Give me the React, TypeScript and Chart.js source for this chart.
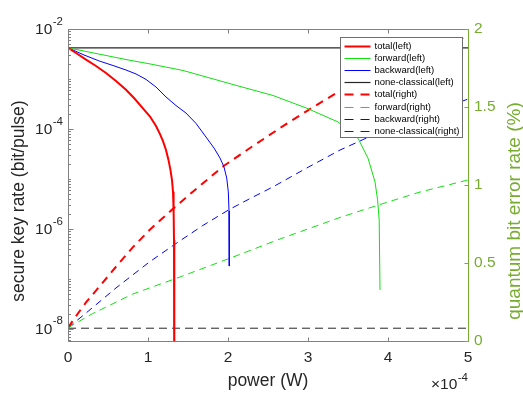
import React, { useEffect, useRef } from 'react';
import { Chart, registerables } from 'chart.js';
Chart.register(...registerables);

const FONT = '"Liberation Sans", Arial, Helvetica, sans-serif';

// power is in units of 1e-4 W (axis multiplier ×10^-4)
const X_TICKS = [0, 1, 2, 3, 4, 5];
const X_TICK_LABELS = ['0', '1', '2', '3', '4', '5'];
const X_MULT_BASE = '×10';
const X_MULT_EXP = '-4';
const X_TITLE = 'power (W)';

const LEFT_MIN = 5.7e-9;
const LEFT_MAX = 1e-2;
const LEFT_LABEL_EXPONENTS = [-2, -4, -6, -8];
const LEFT_TITLE = 'secure key rate (bit/pulse)';

const RIGHT_TICKS = [0, 0.5, 1, 1.5, 2];
const RIGHT_TICK_LABELS = ['0', '0.5', '1', '1.5', '2'];
const RIGHT_TITLE = 'quantum bit error rate (%)';

// secure key rate (left axis)
const TOTAL_LEFT_X = [0, 0.1, 0.225, 0.35, 0.475, 0.6, 0.725, 0.825, 0.934, 1.025, 1.1, 1.15, 1.1875, 1.225, 1.256, 1.281, 1.3, 1.3125, 1.32, 1.325, 1.3275, 1.33];
const TOTAL_LEFT_Y = [4.2e-3, 3.31e-3, 2.43e-3, 1.82e-3, 1.32e-3, 9.1e-4, 6.1e-4, 4.16e-4, 2.62e-4, 1.77e-4, 1.14e-4, 7.9e-5, 5.7e-5, 3.8e-5, 2.4e-5, 1.5e-5, 9.5e-6, 5.5e-6, 2.4e-6, 6e-7, 4.7e-8, 1e-10];

const FORWARD_LEFT_X = [0, 0.4, 0.725, 1.025, 1.4375, 2.0625, 2.5625, 2.9875, 3.375, 3.625, 3.75, 3.8375, 3.87, 3.89, 3.9];
const FORWARD_LEFT_Y = [4.2e-3, 3.12e-3, 2.45e-3, 2.0e-3, 1.48e-3, 7.74e-4, 4.67e-4, 2.59e-4, 1.38e-4, 6.5e-5, 2.6e-5, 8.7e-6, 3.8e-6, 1.5e-6, 6e-8];

const BACKWARD_LEFT_X = [0, 0.2, 0.391, 0.5625, 0.725, 0.85, 0.975, 1.1, 1.225, 1.35, 1.475, 1.6, 1.734, 1.825, 1.9, 1.95, 1.984, 2.004, 2.0125, 2.016];
const BACKWARD_LEFT_Y = [4.2e-3, 3.02e-3, 2.29e-3, 1.86e-3, 1.51e-3, 1.26e-3, 9.8e-4, 6.9e-4, 4.36e-4, 2.94e-4, 2.08e-4, 1.29e-4, 6.58e-5, 4.15e-5, 2.62e-5, 1.73e-5, 1.04e-5, 5.5e-6, 2.28e-6, 1.8e-7];

const NONCLASSICAL_LEFT_X = [0, 5];
const NONCLASSICAL_LEFT_Y = [4.2e-3, 4.2e-3];

// quantum bit error rate in % (right axis)
const TOTAL_RIGHT_X = [0, 0.1, 0.225, 0.391, 0.6, 0.809, 1.016, 1.309, 1.579, 1.941, 2.275, 2.65, 2.984, 3.4, 4.921, 5.0];
const TOTAL_RIGHT_Y = [0.085, 0.16, 0.247, 0.348, 0.476, 0.6, 0.71, 0.846, 0.965, 1.12, 1.237, 1.365, 1.474, 1.603, 1.94, 1.958];

const FORWARD_RIGHT_X = [0, 0.309, 0.809, 1.35, 2.016, 2.65, 3.4, 3.9, 4.4, 5.0];
const FORWARD_RIGHT_Y = [0.085, 0.176, 0.301, 0.401, 0.529, 0.654, 0.792, 0.875, 0.955, 1.032];

const BACKWARD_RIGHT_X = [0, 0.225, 0.6, 1.016, 1.35, 1.684, 2.016, 2.275, 2.566, 2.984, 3.4, 3.816, 5.0];
const BACKWARD_RIGHT_Y = [0.085, 0.179, 0.34, 0.506, 0.625, 0.74, 0.843, 0.913, 0.989, 1.109, 1.224, 1.321, 1.551];

const NONCLASSICAL_RIGHT_X = [0, 5];
const NONCLASSICAL_RIGHT_Y = [0.082, 0.082];

const RED = '#ff0000';
const GREEN = '#10e010';
const BLUE = '#0000ff';
const BLACK = '#262626';
const AXIS_GRAY = '#808080';
const AXIS_GREEN = '#77ac30';
const TEXT = '#262626';

const pts = (xs: number[], ys: number[]) => xs.map((x, i) => ({ x, y: ys[i] }));

const lineDs = (label: string, xs: number[], ys: number[], color: string, width: number, dash: number[], axis: string) => ({
  label,
  data: pts(xs, ys),
  borderColor: color,
  backgroundColor: color,
  borderWidth: width,
  borderDash: dash,
  pointRadius: 0,
  tension: 0,
  fill: false,
  clip: 0,
  yAxisID: axis,
});

function drawPower(ctx: CanvasRenderingContext2D, rightX: number, cy: number, base: string, exp: string, baseSize: number, expSize: number, expRise: number, color: string) {
  ctx.font = `${expSize}px ${FONT}`;
  const ew = ctx.measureText(exp).width;
  ctx.fillStyle = color;
  ctx.textAlign = 'right';
  ctx.textBaseline = 'middle';
  ctx.fillText(exp, rightX, cy - expRise);
  ctx.font = `${baseSize}px ${FONT}`;
  ctx.fillText(base, rightX - ew - 0.5, cy);
}

const overlayPlugin = {
  id: 'matlabOverlay',
  afterDraw(chart: any) {
    const { ctx, chartArea: a, scales } = chart;
    const xs = scales.x, yl = scales.y, yr = scales.y1;
    const al = (v: number) => Math.round(v) + 0.5;
    const L = al(a.left), R = al(a.right), T = al(a.top), B = al(a.bottom);
    ctx.save();
    ctx.setLineDash([]);
    ctx.lineWidth = 1;

    // box (left, top, bottom)
    ctx.strokeStyle = AXIS_GRAY;
    ctx.beginPath();
    ctx.moveTo(L, B); ctx.lineTo(L, T); ctx.lineTo(R, T);
    ctx.moveTo(L, B); ctx.lineTo(R, B);
    // x ticks, bottom and top, inward
    X_TICKS.forEach((v) => {
      const px = al(xs.getPixelForValue(v));
      ctx.moveTo(px, B); ctx.lineTo(px, B - 4);
      ctx.moveTo(px, T); ctx.lineTo(px, T + 4);
    });
    // left log ticks
    for (let e = -9; e <= -2; e++) {
      for (let m = 1; m <= 9; m++) {
        const v = m * Math.pow(10, e);
        if (v < LEFT_MIN || v > LEFT_MAX * 1.0001) continue;
        const py = al(yl.getPixelForValue(v));
        const major = m === 1 && LEFT_LABEL_EXPONENTS.includes(e);
        ctx.moveTo(L, py); ctx.lineTo(L + (major ? 5 : 2.5), py);
      }
    }
    ctx.stroke();

    // right axis (green)
    ctx.strokeStyle = AXIS_GREEN;
    ctx.beginPath();
    ctx.moveTo(R, T); ctx.lineTo(R, B);
    RIGHT_TICKS.forEach((v) => {
      const py = al(yr.getPixelForValue(v));
      ctx.moveTo(R, py); ctx.lineTo(R - 4, py);
    });
    ctx.stroke();

    // left tick labels 10^n
    LEFT_LABEL_EXPONENTS.forEach((e) => {
      const py = yl.getPixelForValue(Math.pow(10, e));
      drawPower(ctx, a.left - 5, py + 0.5, '10', String(e), 15.5, 11.5, 8, TEXT);
    });

    // x multiplier
    drawPower(ctx, a.right, a.bottom + 44, X_MULT_BASE, X_MULT_EXP, 15.5, 11.5, 7, TEXT);

    // x title
    ctx.fillStyle = TEXT;
    ctx.font = `17.5px ${FONT}`;
    ctx.textAlign = 'center';
    ctx.textBaseline = 'alphabetic';
    ctx.fillText(X_TITLE, (a.left + a.right) / 2, a.bottom + 45);

    // left title
    ctx.save();
    ctx.translate(a.left - 49, (a.top + a.bottom) / 2 + 16);
    ctx.rotate(-Math.PI / 2);
    ctx.textAlign = 'center';
    ctx.textBaseline = 'middle';
    ctx.fillStyle = TEXT;
    ctx.font = `17.5px ${FONT}`;
    ctx.fillText(LEFT_TITLE, 0, 0);
    ctx.restore();

    // right title
    ctx.save();
    ctx.translate(a.right + 52, (a.top + a.bottom) / 2 + 26);
    ctx.rotate(-Math.PI / 2);
    ctx.textAlign = 'center';
    ctx.textBaseline = 'alphabetic';
    ctx.fillStyle = AXIS_GREEN;
    ctx.font = `19px ${FONT}`;
    ctx.fillText(RIGHT_TITLE, 0, 0);
    ctx.restore();

    // legend
    const bw = 122, bh = 100;
    const bx = Math.round(a.right - 6 - bw) + 0.5;
    const by = Math.round(a.top + 8) + 0.5;
    ctx.fillStyle = '#ffffff';
    ctx.fillRect(bx, by, bw, bh);
    ctx.strokeStyle = '#6e6e6e';
    ctx.lineWidth = 1;
    ctx.strokeRect(bx, by, bw, bh);
    chart.data.datasets.forEach((ds: any, i: number) => {
      const yy = Math.round(by + 8 + i * 12.2) + 0.5;
      ctx.strokeStyle = ds.borderColor;
      ctx.lineWidth = ds.borderWidth;
      ctx.setLineDash(ds.borderDash && ds.borderDash.length ? [9, 7] : []);
      ctx.beginPath();
      ctx.moveTo(bx + 4, yy);
      ctx.lineTo(bx + 30, yy);
      ctx.stroke();
      ctx.setLineDash([]);
      ctx.fillStyle = '#000';
      ctx.font = `9.5px ${FONT}`;
      ctx.textAlign = 'left';
      ctx.textBaseline = 'middle';
      ctx.fillText(ds.label, bx + 34, yy);
    });
    ctx.restore();
  },
};

export default function App() {
  const ref = useRef<HTMLCanvasElement>(null);
  useEffect(() => {
    const datasets = [
      lineDs('total(left)', TOTAL_LEFT_X, TOTAL_LEFT_Y, RED, 2, [], 'y'),
      lineDs('forward(left)', FORWARD_LEFT_X, FORWARD_LEFT_Y, GREEN, 1, [], 'y'),
      lineDs('backward(left)', BACKWARD_LEFT_X, BACKWARD_LEFT_Y, BLUE, 1, [], 'y'),
      lineDs('none-classical(left)', NONCLASSICAL_LEFT_X, NONCLASSICAL_LEFT_Y, BLACK, 1.2, [], 'y'),
      lineDs('total(right)', TOTAL_RIGHT_X, TOTAL_RIGHT_Y, RED, 2, [8, 6], 'y1'),
      lineDs('forward(right)', FORWARD_RIGHT_X, FORWARD_RIGHT_Y, GREEN, 1, [7, 5], 'y1'),
      lineDs('backward(right)', BACKWARD_RIGHT_X, BACKWARD_RIGHT_Y, BLUE, 1, [7, 5], 'y1'),
      lineDs('none-classical(right)', NONCLASSICAL_RIGHT_X, NONCLASSICAL_RIGHT_Y, BLACK, 1, [8, 5], 'y1'),
    ];
    const tickFont = { size: 15.5, family: FONT };
    const chart = new Chart(ref.current as HTMLCanvasElement, {
      type: 'line',
      data: { datasets } as any,
      options: {
        animation: false,
        responsive: false,
        devicePixelRatio: 1,
        layout: { padding: { top: 29, left: 0, right: 0, bottom: 0 } },
        plugins: { legend: { display: false }, tooltip: { enabled: false } },
        scales: {
          x: {
            type: 'linear',
            position: 'bottom',
            min: 0,
            max: 5,
            afterBuildTicks: (s: any) => { s.ticks = X_TICKS.map((v) => ({ value: v })); },
            ticks: {
              font: tickFont,
              color: TEXT,
              padding: 7,
              maxRotation: 0,
              autoSkip: false,
              callback: (_v: any, i: number) => X_TICK_LABELS[i],
            },
            grid: { display: false, drawTicks: false },
            border: { display: false },
            afterFit: (s: any) => { s.height = 52; },
          },
          y: {
            type: 'logarithmic',
            position: 'left',
            min: LEFT_MIN,
            max: LEFT_MAX,
            ticks: { display: false },
            grid: { display: false, drawTicks: false },
            border: { display: false },
            afterFit: (s: any) => { s.width = 68; },
          },
          y1: {
            type: 'linear',
            position: 'right',
            min: 0,
            max: 2,
            afterBuildTicks: (s: any) => { s.ticks = RIGHT_TICKS.map((v) => ({ value: v })); },
            ticks: {
              font: tickFont,
              color: AXIS_GREEN,
              padding: 6,
              autoSkip: false,
              callback: (_v: any, i: number) => RIGHT_TICK_LABELS[i],
            },
            grid: { display: false, drawTicks: false },
            border: { display: false },
            afterFit: (s: any) => { s.width = 55; },
          },
        },
      } as any,
      plugins: [overlayPlugin],
    });
    return () => chart.destroy();
  }, []);
  return (
    <div style={{ position: 'fixed', left: 0, top: 0, width: 523, height: 393, background: '#ffffff' }}>
      <canvas ref={ref} width={523} height={393} style={{ display: 'block', width: 523, height: 393 }} />
    </div>
  );
}
